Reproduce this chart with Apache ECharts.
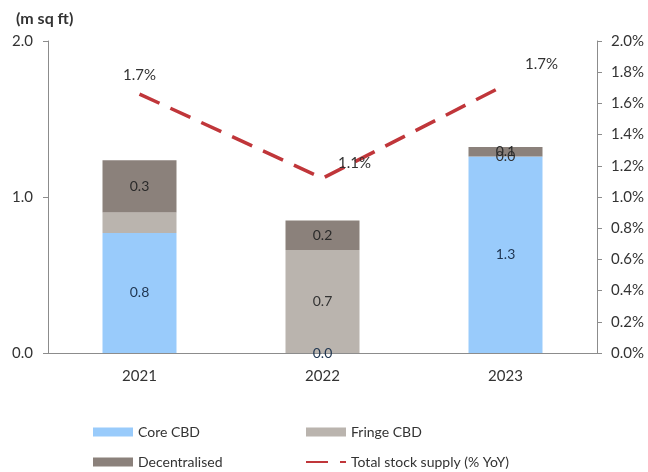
<!DOCTYPE html>
<html>
<head>
<meta charset="utf-8">
<script src="https://cdn.jsdelivr.net/npm/echarts@6/dist/echarts.min.js"></script>
<style>
  html, body { margin: 0; padding: 0; background: #fff; }
  #chart { width: 648px; height: 472px; }
</style>
</head>
<body>
<div id="chart"></div>
<script>
// Office supply by submarket (m sq ft) and total stock growth (% YoY)
const years = ['2021', '2022', '2023'];
const coreCBD = [0.77, 0, 1.26];
const fringeCBD = [0.13, 0.66, 0];
const decentralised = [0.335, 0.19, 0.06];
const stockGrowth = [1.66, 1.12, 1.72];
const leftTicks = { min: 0, max: 2, interval: 1 };
const rightTicks = { min: 0, max: 2, interval: 0.2 };

const FONT = 'Lato';
const TXT = '#333';
const AXIS = '#8c8c8c';
const LINE_RED = '#c0363a';

function barLabel(color) {
  return {
    show: true,
    position: 'inside',
    color: color,
    fontFamily: FONT,
    fontSize: 14,
    formatter: p => p.value.toFixed(1)
  };
}

const legendBase = {
  orient: 'vertical', top: 425, height: 60, padding: 0, itemGap: 16,
  itemWidth: 40, itemHeight: 9,
  textStyle: { fontFamily: FONT, fontSize: 14, color: TXT }
};

const chart = echarts.init(document.getElementById('chart'));
chart.setOption({
  animation: false,
  backgroundColor: '#fff',
  textStyle: { fontFamily: FONT },
  title: {
    text: '(m sq ft)',
    left: 11, top: 6,
    textStyle: { fontFamily: FONT, fontSize: 16, fontWeight: 'bold', color: TXT }
  },
  grid: { left: 48, right: 51, top: 41, bottom: 119 },
  legend: [
    Object.assign({}, legendBase, {
      left: 93,
      data: [
        { name: 'Core CBD', icon: 'rect' },
        { name: 'Decentralised', icon: 'rect' }
      ]
    }),
    Object.assign({}, legendBase, {
      left: 305,
      data: [
        { name: 'Fringe CBD', icon: 'rect' },
        { name: 'Total stock supply (% YoY)' }
      ]
    })
  ],
  xAxis: {
    type: 'category',
    data: years,
    axisLine: { lineStyle: { color: AXIS, width: 1 } },
    axisTick: { show: false },
    axisLabel: { color: TXT, fontFamily: FONT, fontSize: 15, margin: 16 }
  },
  yAxis: [
    {
      type: 'value',
      min: leftTicks.min, max: leftTicks.max, interval: leftTicks.interval,
      splitLine: { show: false },
      axisLine: { show: true, lineStyle: { color: AXIS } },
      axisTick: { show: true, length: 5, lineStyle: { color: AXIS } },
      axisLabel: { color: TXT, fontFamily: FONT, fontSize: 15, margin: 15,
        formatter: v => v.toFixed(1) }
    },
    {
      type: 'value',
      position: 'right',
      min: rightTicks.min, max: rightTicks.max, interval: rightTicks.interval,
      splitLine: { show: false },
      axisLine: { show: true, lineStyle: { color: AXIS } },
      axisTick: { show: true, length: 5, lineStyle: { color: AXIS } },
      axisLabel: { color: TXT, fontFamily: FONT, fontSize: 15, margin: 14,
        formatter: v => v.toFixed(1) + '%' }
    }
  ],
  series: [
    {
      name: 'Core CBD', type: 'bar', stack: 'supply', barWidth: 74,
      itemStyle: { color: '#99cbfb' },
      label: barLabel('#1f3550'),
      data: coreCBD
    },
    {
      name: 'Fringe CBD', type: 'bar', stack: 'supply', barWidth: 74,
      itemStyle: { color: '#bab4ae' },
      label: barLabel('#333'),
      data: fringeCBD.map((v, i) => i === 0 ? { value: v, label: { show: false } } : v)
    },
    {
      name: 'Decentralised', type: 'bar', stack: 'supply', barWidth: 74,
      itemStyle: { color: '#8b817b' },
      label: barLabel('#2a2a2a'),
      data: decentralised
    },
    {
      name: 'Total stock supply (% YoY)', type: 'line', yAxisIndex: 1,
      symbol: 'circle', symbolSize: 1, showSymbol: true,
      lineStyle: { color: LINE_RED, width: 3.5, type: [22, 12] },
      itemStyle: { color: 'rgba(0,0,0,0)', borderWidth: 0 },
      label: {
        show: true, color: TXT, fontFamily: FONT, fontSize: 15,
        formatter: p => p.value.toFixed(1) + '%'
      },
      data: stockGrowth.map((v, i) => ({
        value: v,
        label: { position: 'top', offset: [[0, -6], [32, -2], [36, -8]][i] }
      }))
    }
  ]
});
</script>
</body>
</html>
